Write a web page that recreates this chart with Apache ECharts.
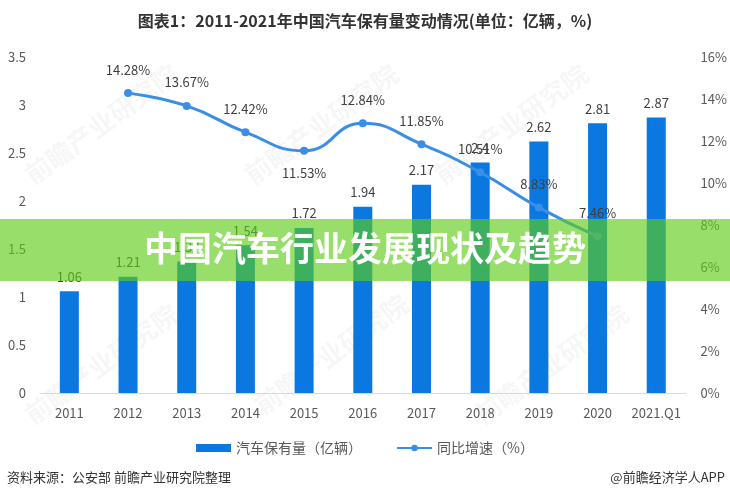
<!DOCTYPE html>
<html>
<head>
<meta charset="utf-8">
<script src="https://cdn.jsdelivr.net/npm/echarts@6/dist/echarts.min.js"></script>
<style>
html, body { margin: 0; padding: 0; background: #fff; }
#chart { width: 730px; height: 500px; }
</style>
</head>
<body>
<div id="chart"></div>
<script>
var years = ['2011', '2012', '2013', '2014', '2015', '2016', '2017', '2018', '2019', '2020', '2021.Q1'];
var stock = [1.06, 1.21, 1.37, 1.54, 1.72, 1.94, 2.17, 2.4, 2.62, 2.81, 2.87];
var growth = [null, 14.28, 13.67, 12.42, 11.53, 12.84, 11.85, 10.51, 8.83, 7.46, null];
var belowLabels = ['2015'];

var fontFam = '"Noto Sans CJK SC", "Microsoft YaHei", sans-serif';

var chart = echarts.init(document.getElementById('chart'));

var growthData = growth.map(function (v, i) {
    var item = { value: v };
    if (belowLabels.indexOf(years[i]) >= 0) {
        item.label = { position: 'bottom', distance: 12 };
    }
    return item;
});

// faint watermarks like the source image
function mark(x, y) {
    return {
        type: 'text', left: x, top: y, rotation: Math.PI / 5, z: 0,
        style: { text: '前瞻产业研究院', fill: 'rgba(0,0,0,0.035)', font: 'bold 26px ' + fontFam }
    };
}

var option = {
    backgroundColor: '#fff',
    animation: false,
    textStyle: { fontFamily: fontFam },
    title: {
        text: '图表1：2011-2021年中国汽车保有量变动情况(单位：亿辆，%)',
        left: 'center',
        top: 8,
        textStyle: { fontSize: 16, fontWeight: 'bold', color: '#333' }
    },
    grid: { left: 40, right: 38, top: 57, bottom: 107 },
    legend: {
        bottom: 40,
        left: 'center',
        itemGap: 34,
        itemWidth: 35,
        itemHeight: 8,
        textStyle: { fontSize: 14, color: '#595959' },
        data: [
            { name: '汽车保有量（亿辆）', icon: 'rect' },
            { name: '同比增速（%）' }
        ]
    },
    xAxis: {
        type: 'category',
        data: years,
        axisLine: { lineStyle: { color: '#d9d9d9' } },
        axisTick: { show: false },
        axisLabel: { color: '#595959', fontSize: 13, margin: 14, interval: 0 }
    },
    yAxis: [
        {
            type: 'value', min: 0, max: 3.5, interval: 0.5,
            splitLine: { show: false },
            axisLine: { show: false },
            axisLabel: { color: '#595959', fontSize: 13, margin: 14 }
        },
        {
            type: 'value', min: 0, max: 16, interval: 2,
            splitLine: { show: false },
            axisLine: { show: false },
            axisLabel: { color: '#595959', fontSize: 13, margin: 15, formatter: '{value}%' }
        }
    ],
    series: [
        {
            name: '汽车保有量（亿辆）',
            type: 'bar',
            data: stock,
            barWidth: 19,
            itemStyle: { color: '#0a78e0' },
            label: { show: true, position: 'top', distance: 8, color: '#404040', fontSize: 13 }
        },
        {
            name: '同比增速（%）',
            type: 'line',
            yAxisIndex: 1,
            data: growthData,
            smooth: 0.5,
            symbol: 'circle',
            symbolSize: 8,
            itemStyle: { color: '#3a8ee8' },
            lineStyle: { color: '#3a8ee8', width: 3 },
            label: {
                show: true, position: 'top', distance: 13, color: '#404040', fontSize: 13,
                formatter: function (p) { return p.value.toFixed(2) + '%'; }
            }
        }
    ],
    graphic: [
        mark(20, 60), mark(240, 60), mark(430, 60), mark(20, 300), mark(250, 290), mark(470, 300),
        {
            type: 'rect', left: 0, top: 219, z: 100,
            shape: { width: 730, height: 62 },
            style: { fill: 'rgba(92,205,22,0.64)' }
        },
        {
            type: 'text', left: 'center', top: 231, z: 101,
            style: {
                text: '中国汽车行业发展现状及趋势',
                fill: '#fff',
                font: 'bold 34px ' + fontFam,
                shadowBlur: 3, shadowColor: 'rgba(0,0,0,0.2)'
            }
        },
        {
            type: 'text', left: 7, top: 471, z: 101,
            style: { text: '资料来源：公安部 前瞻产业研究院整理', fill: '#333', font: '13px ' + fontFam }
        },
        {
            type: 'text', right: 5, top: 471, z: 101,
            style: { text: '@前瞻经济学人APP', fill: '#333', font: '13px ' + fontFam }
        }
    ]
};

chart.setOption(option);
</script>
</body>
</html>
